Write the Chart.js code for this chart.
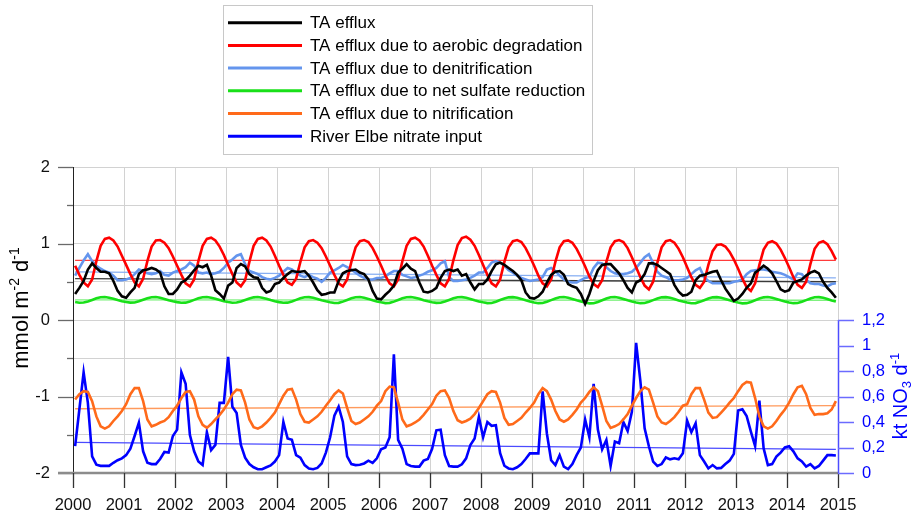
<!DOCTYPE html>
<html>
<head>
<meta charset="utf-8">
<script src="https://cdn.jsdelivr.net/npm/chart.js@4.4.1/dist/chart.umd.min.js"></script>
<style>
  html, body { margin: 0; padding: 0; background: #fff; }
  #wrap { width: 912px; height: 518px; }
</style>
</head>
<body>
<div id="wrap"><canvas id="chart" width="912" height="518"></canvas></div>
<script>
// monthly values, Jan 2000 .. Dec 2014 (12 per row)
const taEfflux = [
  0.34, 0.42, 0.51, 0.66, 0.74, 0.68, 0.63, 0.63, 0.61, 0.51, 0.38, 0.31,
  0.29, 0.36, 0.42, 0.60, 0.65, 0.66, 0.68, 0.66, 0.62, 0.44, 0.34, 0.34,
  0.40, 0.49, 0.52, 0.58, 0.65, 0.71, 0.69, 0.72, 0.58, 0.39, 0.34, 0.28,
  0.45, 0.49, 0.68, 0.73, 0.70, 0.60, 0.56, 0.55, 0.42, 0.36, 0.38, 0.47,
  0.49, 0.55, 0.60, 0.64, 0.63, 0.63, 0.64, 0.58, 0.49, 0.39, 0.33, 0.34,
  0.36, 0.36, 0.51, 0.61, 0.64, 0.65, 0.66, 0.62, 0.60, 0.53, 0.38, 0.28,
  0.27, 0.33, 0.38, 0.45, 0.62, 0.67, 0.73, 0.67, 0.64, 0.49, 0.37, 0.36,
  0.38, 0.42, 0.55, 0.64, 0.66, 0.64, 0.66, 0.58, 0.60, 0.49, 0.40, 0.47,
  0.47, 0.53, 0.64, 0.73, 0.75, 0.72, 0.68, 0.64, 0.59, 0.52, 0.36, 0.29,
  0.28, 0.31, 0.37, 0.49, 0.59, 0.63, 0.64, 0.59, 0.47, 0.44, 0.42, 0.34,
  0.21, 0.34, 0.51, 0.65, 0.72, 0.73, 0.73, 0.67, 0.61, 0.52, 0.42, 0.36,
  0.49, 0.52, 0.60, 0.74, 0.74, 0.72, 0.68, 0.64, 0.60, 0.46, 0.37, 0.32,
  0.33, 0.37, 0.52, 0.58, 0.59, 0.61, 0.63, 0.64, 0.52, 0.41, 0.33, 0.25,
  0.28, 0.34, 0.42, 0.48, 0.62, 0.66, 0.71, 0.67, 0.61, 0.51, 0.40, 0.37,
  0.39, 0.49, 0.51, 0.53, 0.58, 0.62, 0.64, 0.61, 0.50, 0.42, 0.36, 0.29
];
const aerobic = [
  0.71, 0.59, 0.49, 0.44, 0.53, 0.77, 0.97, 1.06, 1.075, 1.04, 0.96, 0.84,
  0.72, 0.60, 0.49, 0.44, 0.54, 0.77, 0.96, 1.04, 1.045, 1.01, 0.94, 0.83,
  0.71, 0.59, 0.48, 0.44, 0.53, 0.77, 0.97, 1.06, 1.075, 1.04, 0.96, 0.85,
  0.72, 0.60, 0.49, 0.44, 0.52, 0.76, 0.97, 1.06, 1.075, 1.04, 0.96, 0.84,
  0.71, 0.59, 0.49, 0.46, 0.54, 0.76, 0.95, 1.03, 1.045, 1.01, 0.94, 0.83,
  0.71, 0.59, 0.48, 0.44, 0.53, 0.76, 0.95, 1.03, 1.045, 1.02, 0.94, 0.83,
  0.71, 0.58, 0.48, 0.44, 0.53, 0.77, 0.97, 1.06, 1.075, 1.04, 0.96, 0.84,
  0.71, 0.59, 0.48, 0.44, 0.54, 0.78, 0.98, 1.07, 1.09, 1.05, 0.97, 0.85,
  0.72, 0.59, 0.48, 0.44, 0.53, 0.76, 0.95, 1.03, 1.045, 1.02, 0.94, 0.83,
  0.71, 0.58, 0.48, 0.44, 0.53, 0.76, 0.95, 1.03, 1.04, 1.01, 0.93, 0.82,
  0.70, 0.57, 0.47, 0.43, 0.52, 0.76, 0.95, 1.03, 1.045, 1.02, 0.94, 0.82,
  0.69, 0.56, 0.45, 0.40, 0.50, 0.75, 0.95, 1.03, 1.045, 1.01, 0.93, 0.82,
  0.69, 0.56, 0.46, 0.42, 0.50, 0.72, 0.90, 0.98, 0.99, 0.96, 0.89, 0.79,
  0.67, 0.54, 0.43, 0.38, 0.48, 0.72, 0.92, 1.01, 1.03, 1.00, 0.92, 0.81,
  0.69, 0.56, 0.46, 0.42, 0.50, 0.73, 0.93, 1.01, 1.03, 0.99, 0.90, 0.79
];
const denitrification = [
  0.58, 0.68, 0.78, 0.86, 0.77, 0.71, 0.67, 0.64, 0.62, 0.58, 0.52, 0.52,
  0.53, 0.55, 0.60, 0.66, 0.64, 0.61, 0.60, 0.61, 0.64, 0.59, 0.58, 0.62,
  0.64, 0.66, 0.69, 0.75, 0.71, 0.62, 0.61, 0.62, 0.60, 0.61, 0.63, 0.68,
  0.75, 0.79, 0.84, 0.86, 0.73, 0.64, 0.62, 0.60, 0.56, 0.54, 0.53, 0.55,
  0.58, 0.63, 0.68, 0.66, 0.62, 0.58, 0.56, 0.59, 0.56, 0.54, 0.50, 0.55,
  0.62, 0.65, 0.68, 0.72, 0.69, 0.66, 0.62, 0.58, 0.55, 0.53, 0.53, 0.55,
  0.55, 0.57, 0.61, 0.64, 0.64, 0.59, 0.57, 0.55, 0.56, 0.58, 0.60, 0.63,
  0.65, 0.68, 0.74, 0.77, 0.56, 0.51, 0.51, 0.52, 0.53, 0.55, 0.58, 0.62,
  0.62, 0.68, 0.75, 0.77, 0.75, 0.71, 0.65, 0.62, 0.58, 0.55, 0.53, 0.51,
  0.52, 0.53, 0.56, 0.66, 0.68, 0.64, 0.58, 0.53, 0.50, 0.49, 0.49, 0.52,
  0.55, 0.56, 0.68, 0.75, 0.74, 0.69, 0.64, 0.61, 0.60, 0.60, 0.61, 0.63,
  0.68, 0.75, 0.82, 0.86, 0.74, 0.63, 0.58, 0.56, 0.53, 0.52, 0.52, 0.53,
  0.55, 0.60, 0.65, 0.68, 0.56, 0.51, 0.48, 0.48, 0.48, 0.48, 0.48, 0.50,
  0.51, 0.53, 0.60, 0.64, 0.65, 0.66, 0.66, 0.65, 0.63, 0.62, 0.61, 0.59,
  0.56, 0.53, 0.61, 0.60, 0.53, 0.48, 0.47, 0.47, 0.45, 0.44, 0.47, 0.48
];
const sulfate = [
  0.235, 0.225, 0.228, 0.242, 0.262, 0.283, 0.297, 0.300, 0.292, 0.277, 0.260, 0.246,
  0.236, 0.227, 0.229, 0.244, 0.265, 0.285, 0.298, 0.301, 0.291, 0.276, 0.259, 0.245,
  0.234, 0.225, 0.227, 0.242, 0.263, 0.284, 0.298, 0.301, 0.292, 0.277, 0.260, 0.246,
  0.235, 0.226, 0.228, 0.243, 0.262, 0.282, 0.296, 0.300, 0.292, 0.278, 0.261, 0.246,
  0.234, 0.225, 0.227, 0.242, 0.263, 0.284, 0.297, 0.299, 0.290, 0.275, 0.258, 0.244,
  0.232, 0.222, 0.224, 0.240, 0.262, 0.283, 0.297, 0.300, 0.291, 0.276, 0.258, 0.243,
  0.231, 0.221, 0.224, 0.240, 0.261, 0.283, 0.298, 0.301, 0.292, 0.277, 0.259, 0.244,
  0.233, 0.224, 0.226, 0.241, 0.262, 0.283, 0.297, 0.299, 0.290, 0.275, 0.257, 0.243,
  0.231, 0.221, 0.223, 0.239, 0.261, 0.282, 0.296, 0.299, 0.291, 0.276, 0.258, 0.243,
  0.230, 0.220, 0.222, 0.238, 0.260, 0.282, 0.297, 0.300, 0.291, 0.275, 0.257, 0.242,
  0.228, 0.217, 0.219, 0.236, 0.259, 0.282, 0.297, 0.300, 0.291, 0.275, 0.257, 0.242,
  0.230, 0.220, 0.222, 0.238, 0.260, 0.282, 0.296, 0.299, 0.290, 0.274, 0.256, 0.241,
  0.229, 0.219, 0.221, 0.237, 0.259, 0.281, 0.296, 0.299, 0.290, 0.275, 0.257, 0.242,
  0.228, 0.218, 0.220, 0.236, 0.258, 0.281, 0.296, 0.300, 0.291, 0.275, 0.257, 0.242,
  0.230, 0.220, 0.222, 0.238, 0.260, 0.282, 0.297, 0.299, 0.290, 0.274, 0.256, 0.241
];
const nitrification = [
  -1.04, -0.97, -0.93, -0.94, -1.06, -1.26, -1.39, -1.42, -1.39, -1.32, -1.26, -1.19,
  -1.10, -0.97, -0.89, -0.89, -1.06, -1.30, -1.39, -1.37, -1.34, -1.32, -1.27, -1.19,
  -1.12, -1.02, -0.94, -0.93, -1.04, -1.26, -1.37, -1.41, -1.36, -1.30, -1.24, -1.17,
  -1.08, -0.97, -0.91, -0.92, -1.08, -1.30, -1.40, -1.42, -1.39, -1.34, -1.28, -1.21,
  -1.10, -0.99, -0.91, -0.90, -1.04, -1.23, -1.33, -1.34, -1.30, -1.26, -1.20, -1.12,
  -1.05, -0.97, -0.92, -0.96, -1.15, -1.32, -1.36, -1.34, -1.30, -1.26, -1.20, -1.12,
  -1.06, -0.93, -0.87, -0.88, -1.08, -1.30, -1.39, -1.37, -1.34, -1.30, -1.24, -1.17,
  -1.10, -0.99, -0.93, -0.92, -1.02, -1.19, -1.31, -1.34, -1.32, -1.29, -1.23, -1.15,
  -1.06, -0.97, -0.93, -0.94, -1.08, -1.28, -1.37, -1.36, -1.32, -1.28, -1.21, -1.15,
  -1.08, -0.97, -0.89, -0.93, -1.04, -1.19, -1.30, -1.33, -1.30, -1.24, -1.17, -1.08,
  -1.02, -0.94, -0.88, -0.93, -1.12, -1.32, -1.41, -1.39, -1.36, -1.30, -1.23, -1.12,
  -1.02, -0.93, -0.88, -0.91, -1.08, -1.26, -1.34, -1.36, -1.32, -1.27, -1.20, -1.12,
  -1.10, -0.97, -0.89, -0.89, -1.04, -1.21, -1.28, -1.27, -1.21, -1.15, -1.08, -1.02,
  -0.93, -0.85, -0.81, -0.82, -1.02, -1.26, -1.39, -1.42, -1.39, -1.32, -1.24, -1.17,
  -1.08, -0.97, -0.88, -0.86, -0.97, -1.15, -1.24, -1.23, -1.23, -1.22, -1.17, -1.06
];
const elbeNitrate = [
  0.21, 0.50, 0.79, 0.55, 0.13, 0.065, 0.056, 0.056, 0.056, 0.08, 0.10, 0.115,
  0.14, 0.19, 0.29, 0.395, 0.17, 0.08, 0.07, 0.07, 0.11, 0.165, 0.16, 0.29,
  0.34, 0.79, 0.70, 0.30, 0.17, 0.09, 0.062, 0.32, 0.18, 0.22, 0.55, 0.55,
  0.91, 0.52, 0.47, 0.22, 0.12, 0.07, 0.045, 0.03, 0.03, 0.045, 0.06, 0.09,
  0.14, 0.40, 0.27, 0.26, 0.14, 0.12, 0.062, 0.035, 0.03, 0.04, 0.075, 0.16,
  0.28, 0.45, 0.52, 0.40, 0.13, 0.07, 0.062, 0.065, 0.075, 0.097, 0.08, 0.115,
  0.186, 0.20, 0.28, 0.93, 0.26, 0.19, 0.07, 0.055, 0.05, 0.05, 0.097, 0.11,
  0.19, 0.335, 0.34, 0.14, 0.055, 0.05, 0.05, 0.068, 0.115, 0.22, 0.27, 0.44,
  0.28, 0.40, 0.37, 0.375, 0.155, 0.057, 0.036, 0.03, 0.045, 0.07, 0.11, 0.154,
  0.154, 0.154, 0.64, 0.31, 0.10, 0.062, 0.14, 0.05, 0.031, 0.07, 0.14, 0.20,
  0.42, 0.28, 0.70, 0.34, 0.186, 0.26, 0.055, 0.246, 0.233, 0.40, 0.33, 0.48,
  1.02, 0.72, 0.35, 0.21, 0.09, 0.055, 0.07, 0.122, 0.107, 0.115, 0.107, 0.154,
  0.41, 0.32, 0.39, 0.14, 0.09, 0.036, 0.062, 0.036, 0.04, 0.07, 0.097, 0.15,
  0.49, 0.50, 0.447, 0.324, 0.21, 0.567, 0.193, 0.062, 0.07, 0.128, 0.16, 0.20,
  0.21, 0.17, 0.115, 0.09, 0.05, 0.07, 0.036, 0.055, 0.097, 0.14, 0.14, 0.137
];

// linear trends: [start, end]
const trendTA = [0.54, 0.50];
const trendAerobic = [0.78, 0.78];
const trendDenitrification = [0.63, 0.55];
const trendSulfate = [0.262, 0.258];
const trendNitrification = [-1.16, -1.12];
const trendNitrate = [0.24, 0.185];

const seriesLabels = [
  'TA efflux',
  'TA efflux due to aerobic degradation',
  'TA efflux due to denitrification',
  'TA efflux due to net sulfate reduction',
  'TA efflux due to nitrification',
  'River Elbe nitrate input'
];
const yearTicks = [2000, 2001, 2002, 2003, 2004, 2005, 2006, 2007, 2008, 2009, 2010, 2011, 2012, 2013, 2014, 2015];

const FONT = '"Liberation Sans", Arial, sans-serif';

// decimal year of each monthly value (mid-month)
const monthX = taEfflux.map((_, i) => 2000 + (i + 0.5) / 12);
const firstX = monthX[0], lastX = monthX[monthX.length - 1];

function series(values) {
  return values.map((v, i) => ({ x: monthX[i], y: v }));
}
function trend(pair) {
  return [{ x: firstX, y: pair[0] }, { x: lastX, y: pair[1] }];
}

const colors = ['#000000', '#ff0000', '#6495ed', '#19e019', '#ff6a1a', '#0000ff'];
const mainData = [taEfflux, aerobic, denitrification, sulfate, nitrification, elbeNitrate];
const trendData = [trendTA, trendAerobic, trendDenitrification, trendSulfate, trendNitrification, trendNitrate];
const trendColors = ['#3a3a3a', '#ff3b3b', '#86aef2', '#7ff07f', '#ff9a5c', '#4a4aff'];

const datasets = [];
mainData.forEach((d, i) => {
  datasets.push({
    label: seriesLabels[i],
    data: series(d),
    borderColor: colors[i],
    borderWidth: 2.6,
    pointRadius: 0,
    tension: 0,
    inLegend: true,
    yAxisID: i === 5 ? 'y1' : 'y'
  });
});
trendData.forEach((d, i) => {
  datasets.push({
    label: seriesLabels[i] + ' trend',
    data: trend(d),
    borderColor: trendColors[i],
    borderWidth: 1.3,
    pointRadius: 0,
    yAxisID: i === 5 ? 'y1' : 'y'
  });
});

function drawRich(ctx, parts, cx, cy, color) {
  // parts: [text, size, shift] drawn along a -90deg rotated baseline
  ctx.save();
  ctx.translate(cx, cy);
  ctx.rotate(-Math.PI / 2);
  ctx.fillStyle = color;
  ctx.textBaseline = 'alphabetic';
  ctx.textAlign = 'left';
  let total = 0;
  parts.forEach(p => { ctx.font = p[1] + 'px ' + FONT; total += ctx.measureText(p[0]).width; });
  let x = -total / 2;
  parts.forEach(p => {
    ctx.font = p[1] + 'px ' + FONT;
    ctx.fillText(p[0], x, 7 + p[2]);
    x += ctx.measureText(p[0]).width;
  });
  ctx.restore();
}

const decor = {
  id: 'decor',
  afterDraw(chart) {
    const { ctx, chartArea: a, scales } = chart;
    const x = scales.x, y = scales.y, y1 = scales.y1;
    ctx.save();
    ctx.lineCap = 'butt';

    // left axis tick marks
    ctx.strokeStyle = '#6a6a6a';
    ctx.lineWidth = 1.3;
    y.ticks.forEach(t => {
      const py = Math.round(y.getPixelForValue(t.value)) + 0.5;
      const len = Number.isInteger(t.value) ? 15 : 6;
      ctx.beginPath(); ctx.moveTo(a.left - len, py); ctx.lineTo(a.left, py); ctx.stroke();
    });

    // bottom axis line
    const by = y.getPixelForValue(-2);
    ctx.strokeStyle = '#8c8c8c';
    ctx.lineWidth = 2.5;
    ctx.beginPath(); ctx.moveTo(a.left - 15, by); ctx.lineTo(a.right, by); ctx.stroke();

    // year ticks
    ctx.strokeStyle = '#333';
    ctx.lineWidth = 1.3;
    x.ticks.forEach(t => {
      const px = Math.round(x.getPixelForValue(t.value)) + 0.5;
      ctx.beginPath(); ctx.moveTo(px, by); ctx.lineTo(px, by + 15); ctx.stroke();
    });

    // right nitrate axis, 0 .. 1.2 only
    ctx.strokeStyle = '#4d4dff';
    ctx.lineWidth = 1.5;
    const rx = Math.round(a.right) + 0.5;
    ctx.beginPath(); ctx.moveTo(rx, y1.getPixelForValue(0)); ctx.lineTo(rx, y1.getPixelForValue(1.2)); ctx.stroke();
    ctx.strokeStyle = '#6b6bff';
    y1.ticks.forEach(t => {
      const py = Math.round(y1.getPixelForValue(t.value)) + 0.5;
      ctx.beginPath(); ctx.moveTo(a.right, py); ctx.lineTo(a.right + 16, py); ctx.stroke();
    });

    // axis titles
    drawRich(ctx, [['mmol m', 22, 0], ['-2', 14, -9], [' d', 22, 0], ['-1', 14, -9]], 21, 308, '#000');
    drawRich(ctx, [['kt NO', 20, 0], ['3', 13, 4], [' d', 20, 0], ['-1', 13, -8]], 900, 396, '#0000ff');

    // legend
    ctx.fillStyle = '#fff';
    ctx.fillRect(223.5, 5.5, 369, 149);
    ctx.strokeStyle = '#c8c8c8';
    ctx.lineWidth = 1;
    ctx.strokeRect(223.5, 5.5, 369, 149);
    ctx.font = '17px ' + FONT;
    ctx.textBaseline = 'middle';
    ctx.textAlign = 'left';
    chart.data.datasets.filter(d => d.inLegend).forEach((d, i) => {
      const ly = 22.7 + i * 22.7;
      ctx.strokeStyle = d.borderColor;
      ctx.lineWidth = 3;
      ctx.beginPath(); ctx.moveTo(228, ly); ctx.lineTo(302, ly); ctx.stroke();
      ctx.fillStyle = '#000';
      ctx.fillText(d.label, 310, ly + 1);
    });
    ctx.restore();
  }
};

new Chart(document.getElementById('chart').getContext('2d'), {
  type: 'line',
  data: { datasets: datasets },
  plugins: [decor],
  options: {
    responsive: false,
    animation: false,
    events: [],
    layout: { padding: { top: 167, left: 0, right: 0, bottom: 0 } },
    plugins: { legend: { display: false }, tooltip: { enabled: false } },
    scales: {
      x: {
        type: 'linear',
        min: 2000,
        max: 2015,
        afterBuildTicks: s => { s.ticks = yearTicks.map(v => ({ value: v })); },
        ticks: {
          callback: v => String(v),
          font: { family: FONT, size: 16.5 },
          color: '#111',
          padding: 23,
          maxRotation: 0,
          autoSkip: false
        },
        grid: { color: '#d2d2d2', lineWidth: 1, drawTicks: false },
        border: { display: false },
        afterFit: s => { s.height = 45; }
      },
      y: {
        position: 'left',
        min: -2,
        max: 2,
        ticks: {
          stepSize: 0.5,
          callback: v => Number.isInteger(v) ? String(v) : '',
          font: { family: FONT, size: 16.5 },
          color: '#111',
          padding: 23,
          autoSkip: false
        },
        grid: { color: '#d2d2d2', lineWidth: 1, drawTicks: false },
        border: { display: true, color: '#222', width: 1 },
        afterFit: s => { s.width = 73; }
      },
      y1: {
        position: 'right',
        min: 0,
        max: 2.4,
        afterBuildTicks: s => { s.ticks = s.ticks.filter(t => t.value <= 1.2001); },
        ticks: {
          stepSize: 0.2,
          callback: v => {
            if (Math.abs(v) < 1e-9) return '0';
            if (Math.abs(v - 1) < 1e-9) return '1';
            return v.toFixed(1).replace('.', ',');
          },
          font: { family: FONT, size: 16.5 },
          color: '#0000ff',
          padding: 24,
          autoSkip: false
        },
        grid: { drawOnChartArea: false, drawTicks: false },
        border: { display: false },
        afterFit: s => { s.width = 74; }
      }
    }
  }
});
</script>
</body>
</html>
